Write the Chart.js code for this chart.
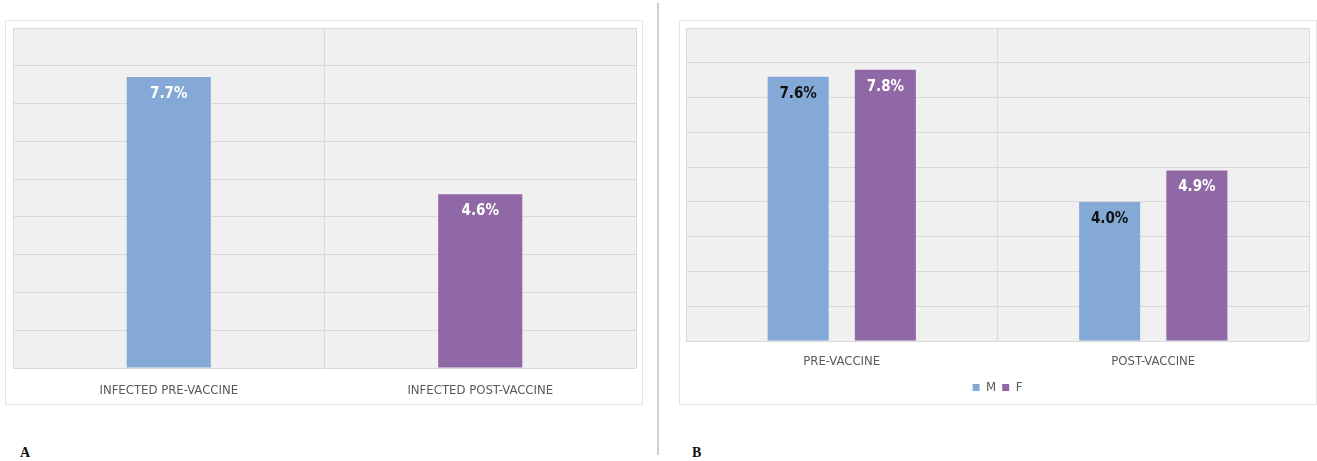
<!DOCTYPE html>
<html lang="en">
<head>
  <meta charset="UTF-8" />
  <title>Infection rate pre / post vaccine</title>
  <style>
    body {
      margin: 0;
      width: 1317px;
      height: 461px;
      background: #ffffff;
      position: relative;
      overflow: hidden;
      font-family: 'Liberation Sans Narrow', 'DejaVu Sans Condensed', sans-serif;
    }

    .card {
      position: absolute;
      top: 21px;
      width: 636px;
      height: 383px;
      background: #ffffff;
      box-shadow: 0 0 0 1px #e6e6e6;
    }

    #cardA { left: 6px; }
    #cardB { left: 680px; }

    .divider {
      position: absolute;
      left: 657px;
      top: 3px;
      width: 2px;
      height: 452px;
      background: #cfcfcf;
    }

    .tag {
      position: absolute;
      top: 445px;
      font-family: 'Liberation Serif', serif;
      font-weight: bold;
      font-size: 14px;
      color: #111;
    }
  </style>
</head>
<body>

  <div class="card" id="cardA"><canvas id="chartA"></canvas></div>
  <div class="divider"></div>
  <div class="card" id="cardB"><canvas id="chartB"></canvas></div>

  <div class="tag" style="left:20px;">A</div>
  <div class="tag" style="left:692px;">B</div>

  <script src="https://cdn.jsdelivr.net/npm/chart.js"></script>

  <script>
    // panel A: overall infection rate
    const labelsA = ["INFECTED PRE-VACCINE", "INFECTED POST-VACCINE"];
    const valuesA = [7.7, 4.6];

    // panel B: split by sex
    const labelsB = ["PRE-VACCINE", "POST-VACCINE"];
    const valuesM = [7.6, 4.0];
    const valuesF = [7.8, 4.9];

    const BLUE = "#85a9d6";
    const PURPLE = "#9068a5";
    const LABEL_FONT = "'Liberation Sans Narrow', 'DejaVu Sans Condensed', sans-serif";

    // grey plot background
    const plotBg = {
      id: 'plotBg',
      beforeDraw(chart) {
        const a = chart.chartArea;
        const ctx = chart.ctx;
        ctx.save();
        ctx.fillStyle = '#f0f0f0';
        ctx.fillRect(a.left, a.top, a.right - a.left, a.bottom - a.top);
        ctx.restore();
      }
    };

    // value labels written just inside the top of each bar
    const barValues = {
      id: 'barValues',
      afterDatasetsDraw(chart) {
        const ctx = chart.ctx;
        ctx.save();
        ctx.font = "bold 15px " + LABEL_FONT;
        ctx.textAlign = 'center';
        ctx.textBaseline = 'middle';
        chart.data.datasets.forEach((ds, i) => {
          chart.getDatasetMeta(i).data.forEach((bar, j) => {
            ctx.fillStyle = Array.isArray(ds.valueColor) ? ds.valueColor[j] : ds.valueColor;
            ctx.fillText(ds.data[j].toFixed(1) + '%', bar.x, bar.y + 17);
          });
        });
        ctx.restore();
      }
    };

    // x axis gets a fixed height so the plot bottom lands where we want it
    function axes(tickPad, axisHeight) {
      return {
        x: {
          grid: { color: '#d9d9d9', drawTicks: false, offset: true },
          border: { display: false },
          ticks: {
            padding: tickPad,
            color: '#595959',
            font: { family: LABEL_FONT, size: 13 }
          },
          afterFit(scale) { scale.height = axisHeight; }
        },
        y: {
          min: 0,
          max: 9,
          ticks: { stepSize: 1, display: false },
          grid: { color: '#d9d9d9', drawTicks: false },
          border: { display: false }
        }
      };
    }

    new Chart(document.getElementById('chartA'), {
      type: 'bar',
      data: {
        labels: labelsA,
        datasets: [{
          data: valuesA,
          backgroundColor: [BLUE, PURPLE],
          valueColor: ['#ffffff', '#ffffff'],
          categoryPercentage: 1,
          barPercentage: 0.27
        }]
      },
      options: {
        responsive: true,
        maintainAspectRatio: false,
        animation: false,
        layout: { padding: { left: 7, right: 6, top: 7, bottom: 0 } },
        plugins: { legend: { display: false }, tooltip: { enabled: false } },
        scales: axes(15, 36)
      },
      plugins: [plotBg, barValues]
    });

    new Chart(document.getElementById('chartB'), {
      type: 'bar',
      data: {
        labels: labelsB,
        datasets: [
          {
            label: 'M',
            data: valuesM,
            backgroundColor: BLUE,
            valueColor: '#111111',
            categoryPercentage: 0.56,
            barPercentage: 0.7
          },
          {
            label: 'F',
            data: valuesF,
            backgroundColor: PURPLE,
            valueColor: '#ffffff',
            categoryPercentage: 0.56,
            barPercentage: 0.7
          }
        ]
      },
      options: {
        responsive: true,
        maintainAspectRatio: false,
        animation: false,
        layout: { padding: { left: 6, right: 7, top: 7, bottom: 0 } },
        plugins: {
          tooltip: { enabled: false },
          legend: {
            position: 'bottom',
            labels: {
              boxWidth: 7,
              boxHeight: 7,
              padding: 6,
              color: '#595959',
              font: { family: LABEL_FONT, size: 13 }
            }
          }
        },
        scales: axes(13, 34)
      },
      plugins: [plotBg, barValues]
    });
  </script>

</body>
</html>
